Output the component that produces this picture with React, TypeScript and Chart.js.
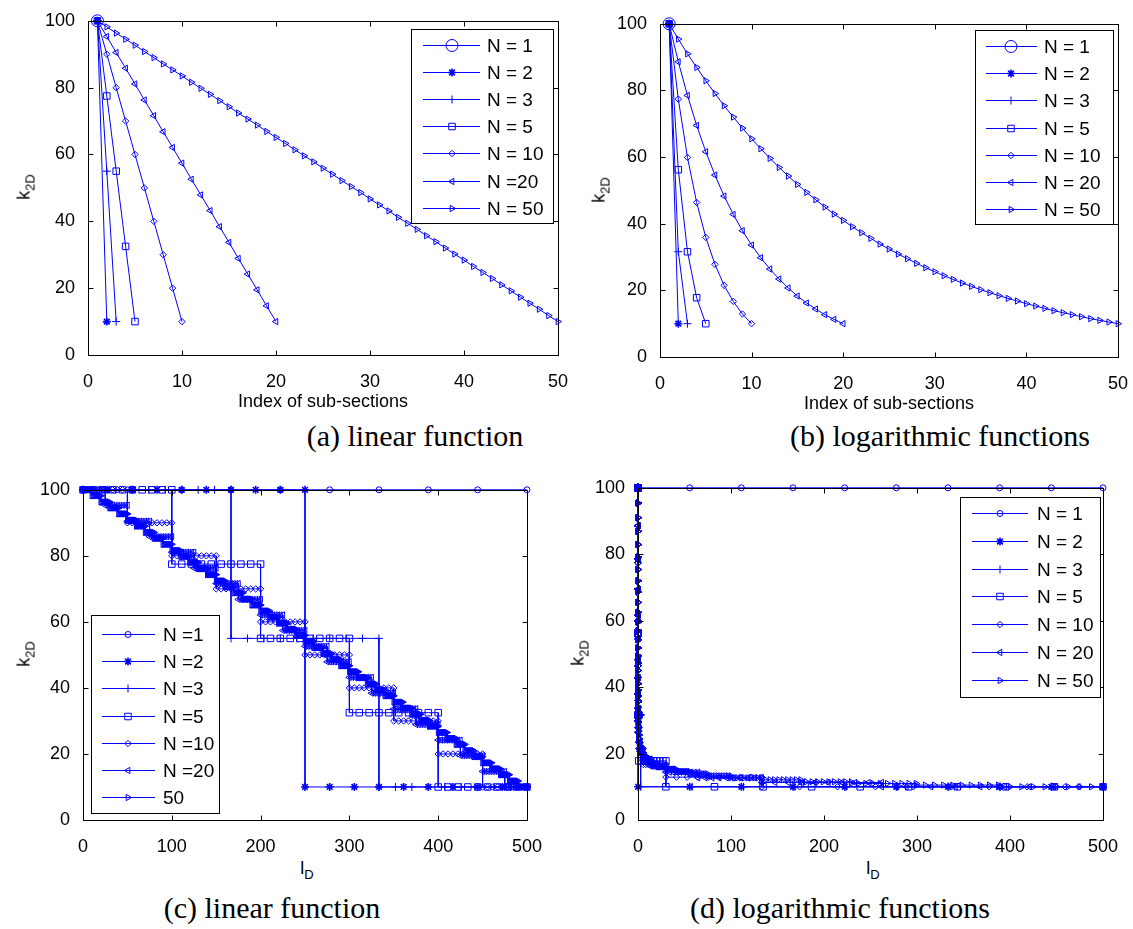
import React, { useEffect, useRef } from 'react';
import { Chart, registerables } from 'chart.js';

Chart.register(...registerables);

// Number of sub-sections for each series
const N_COUNTS = [1, 2, 3, 5, 10, 20, 50];

// k_2D of every sub-section, linear decrease from 100 to 10
const LIN_N1 = [100];
const LIN_N2 = [100, 10];
const LIN_N3 = [100, 55, 10];
const LIN_N5 = [100, 77.5, 55, 32.5, 10];
const LIN_N10 = [100, 90, 80, 70, 60, 50, 40, 30, 20, 10];
const LIN_N20 = [100, 95.3, 90.5, 85.8, 81.1, 76.3, 71.6, 66.8, 62.1, 57.4, 52.6, 47.9, 43.2, 38.4, 33.7, 28.9, 24.2, 19.5, 14.7, 10];
const LIN_N50 = [
  100, 98.2, 96.3, 94.5, 92.7, 90.8, 89.0, 87.1, 85.3, 83.5,
  81.6, 79.8, 78.0, 76.1, 74.3, 72.4, 70.6, 68.8, 66.9, 65.1,
  63.3, 61.4, 59.6, 57.8, 55.9, 54.1, 52.2, 50.4, 48.6, 46.7,
  44.9, 43.1, 41.2, 39.4, 37.6, 35.7, 33.9, 32.0, 30.2, 28.4,
  26.5, 24.7, 22.9, 21.0, 19.2, 17.3, 15.5, 13.7, 11.8, 10,
];

// k_2D of every sub-section, logarithmic decrease from 100 to 10
const LOG_N1 = [100];
const LOG_N2 = [100, 10];
const LOG_N3 = [100, 31.6, 10];
const LOG_N5 = [100, 56.2, 31.6, 17.8, 10];
const LOG_N10 = [100, 77.4, 59.9, 46.4, 35.9, 27.8, 21.5, 16.7, 12.9, 10];
const LOG_N20 = [100, 88.6, 78.5, 69.5, 61.6, 54.6, 48.3, 42.8, 37.9, 33.6, 29.8, 26.4, 23.4, 20.7, 18.3, 16.2, 14.4, 12.7, 11.3, 10];
const LOG_N50 = [
  100, 95.4, 91.0, 86.9, 82.9, 79.1, 75.4, 72.0, 68.7, 65.5,
  62.5, 59.6, 56.9, 54.3, 51.8, 49.4, 47.2, 45.0, 42.9, 41.0,
  39.1, 37.3, 35.6, 33.9, 32.4, 30.9, 29.5, 28.1, 26.8, 25.6,
  24.4, 23.3, 22.2, 21.2, 20.2, 19.3, 18.4, 17.6, 16.8, 16.0,
  15.3, 14.6, 13.9, 13.3, 12.7, 12.1, 11.5, 11.0, 10.5, 10,
];

// l_D boundaries of the sub-sections, linear case (equal lengths)
const C_EDGES_N1 = [0, 500];
const C_EDGES_N2 = [0, 250, 500];
const C_EDGES_N3 = [0, 166.7, 333.3, 500];
const C_EDGES_N5 = [0, 100, 200, 300, 400, 500];
const C_EDGES_N10 = [0, 50, 100, 150, 200, 250, 300, 350, 400, 450, 500];
const C_EDGES_N20 = [0, 25, 50, 75, 100, 125, 150, 175, 200, 225, 250, 275, 300, 325, 350, 375, 400, 425, 450, 475, 500];
const C_EDGES_N50 = [
  0, 10, 20, 30, 40, 50, 60, 70, 80, 90, 100, 110, 120, 130, 140, 150, 160, 170, 180, 190,
  200, 210, 220, 230, 240, 250, 260, 270, 280, 290, 300, 310, 320, 330, 340, 350, 360, 370, 380, 390,
  400, 410, 420, 430, 440, 450, 460, 470, 480, 490, 500,
];

// l_D boundaries of the sub-sections, logarithmic case
const D_EDGES_N1 = [0, 500];
const D_EDGES_N2 = [0, 0.08, 500];
const D_EDGES_N3 = [0, 0, 3.0, 500];
const D_EDGES_N5 = [0, 0, 0.005, 0.8, 30, 500];
const D_EDGES_N10 = [0, 0, 0, 0, 0.005, 0.08, 0.8, 5.6, 30, 133, 500];
const D_EDGES_N20 = [0, 0, 0, 0, 0, 0, 0, 0, 0.005, 0.021, 0.08, 0.27, 0.8, 2.2, 5.6, 13.3, 30, 64.5, 133, 262, 500];
const D_EDGES_N50 = [
  0, 0, 0, 0, 0, 0, 0, 0, 0, 0, 0, 0, 0, 0, 0, 0, 0, 0, 0, 0,
  0.005, 0.009, 0.016, 0.028, 0.048, 0.08, 0.13, 0.21, 0.34, 0.52,
  0.8, 1.2, 1.8, 2.7, 3.9, 5.6, 8.0, 11.3, 15.7, 21.8,
  30, 41, 55.6, 74.8, 99.9, 132.6, 174.9, 229.3, 299, 387.6, 500,
];

// Axis ticks
const INDEX_TICKS = [0, 10, 20, 30, 40, 50];
const LENGTH_TICKS = [0, 100, 200, 300, 400, 500];
const K_TICKS = [0, 20, 40, 60, 80, 100];

// Legend texts
const LEGEND_A = ['N = 1', 'N = 2', 'N = 3', 'N = 5', 'N = 10', 'N =20', 'N = 50'];
const LEGEND_B = ['N = 1', 'N = 2', 'N = 3', 'N = 5', 'N = 10', 'N = 20', 'N = 50'];
const LEGEND_C = ['N =1', 'N =2', 'N =3', 'N =5', 'N =10', 'N =20', '50'];
const LEGEND_D = ['N = 1', 'N = 2', 'N = 3', 'N = 5', 'N = 10', 'N = 20', 'N = 50'];

const LIN_LEVELS = [LIN_N1, LIN_N2, LIN_N3, LIN_N5, LIN_N10, LIN_N20, LIN_N50];
const LOG_LEVELS = [LOG_N1, LOG_N2, LOG_N3, LOG_N5, LOG_N10, LOG_N20, LOG_N50];
const C_EDGES = [C_EDGES_N1, C_EDGES_N2, C_EDGES_N3, C_EDGES_N5, C_EDGES_N10, C_EDGES_N20, C_EDGES_N50];
const D_EDGES = [D_EDGES_N1, D_EDGES_N2, D_EDGES_N3, D_EDGES_N5, D_EDGES_N10, D_EDGES_N20, D_EDGES_N50];

// Each sub-section is sampled by this many markers along l_D
const MARKERS_PER_SECTION = 10;

const BLUE = 'rgb(0,0,255)';
const SANS = "'Liberation Sans', Arial, sans-serif";
const SERIF = "'Liberation Serif', 'Times New Roman', serif";

type Marker = { pointStyle: string; radius: number; rotation: number; width: number };

const markerSet = (circleRadius: number): Marker[] => [
  { pointStyle: 'circle', radius: circleRadius, rotation: 0, width: 1 },
  { pointStyle: 'star', radius: 4, rotation: 0, width: 1.6 },
  { pointStyle: 'cross', radius: 4, rotation: 0, width: 1 },
  { pointStyle: 'rect', radius: 4.6, rotation: 0, width: 1 },
  { pointStyle: 'rectRot', radius: 3.2, rotation: 0, width: 1 },
  { pointStyle: 'triangle', radius: 3.6, rotation: -90, width: 1 },
  { pointStyle: 'triangle', radius: 3.6, rotation: 90, width: 1 },
];

type Area = { left: number; top: number; right: number; bottom: number };
type LegendSpec = {
  labels: string[];
  box: [number, number, number, number];
  firstRow: number;
  rowStep: number;
  lineX: [number, number];
  markerX: number;
  textX: number;
};
type PanelSpec = {
  key: string;
  area: Area;
  xMax: number;
  xTicks: number[];
  markers: Marker[];
  series: { x: number; y: number }[][];
  legend: LegendSpec;
};

const Y_AXIS_W = 55;
const X_AXIS_H = 32;
const PAD = { left: 5, top: 14, right: 18, bottom: 4 };
const TICK_LEN = 5;

function indexSeries(levels: number[]) {
  return levels.map((k, i) => ({ x: i + 1, y: k }));
}

function stepSeries(levels: number[], edges: number[]) {
  const pts: { x: number; y: number }[] = [];
  levels.forEach((k, i) => {
    const a = edges[i];
    const b = edges[i + 1];
    for (let s = 0; s < MARKERS_PER_SECTION; s++) {
      pts.push({ x: a + ((b - a) * s) / (MARKERS_PER_SECTION - 1), y: k });
    }
  });
  return pts;
}

const PANELS: PanelSpec[] = [
  {
    key: 'a',
    area: { left: 88, top: 19, right: 558, bottom: 355 },
    xMax: 50,
    xTicks: INDEX_TICKS,
    markers: markerSet(6),
    series: LIN_LEVELS.map(indexSeries),
    legend: { labels: LEGEND_A, box: [411, 29, 553, 223], firstRow: 44.5, rowStep: 27.2, lineX: [423, 480], markerX: 452, textX: 487 },
  },
  {
    key: 'b',
    area: { left: 660, top: 22, right: 1118, bottom: 357 },
    xMax: 50,
    xTicks: INDEX_TICKS,
    markers: markerSet(6),
    series: LOG_LEVELS.map(indexSeries),
    legend: { labels: LEGEND_B, box: [975, 30, 1113, 224], firstRow: 46, rowStep: 27.2, lineX: [986, 1037], markerX: 1011, textX: 1044 },
  },
  {
    key: 'c',
    area: { left: 83, top: 488, right: 532, bottom: 820 },
    xMax: 500,
    xTicks: LENGTH_TICKS,
    markers: markerSet(3),
    series: LIN_LEVELS.map((lv, i) => stepSeries(lv, C_EDGES[i])),
    legend: { labels: LEGEND_C, box: [91, 615, 219, 813], firstRow: 634, rowStep: 27.2, lineX: [102, 155], markerX: 128, textX: 163 },
  },
  {
    key: 'd',
    area: { left: 638, top: 486, right: 1108, bottom: 820 },
    xMax: 500,
    xTicks: LENGTH_TICKS,
    markers: markerSet(3),
    series: LOG_LEVELS.map((lv, i) => stepSeries(lv, D_EDGES[i])),
    legend: { labels: LEGEND_D, box: [960, 497, 1100, 697], firstRow: 513, rowStep: 27.8, lineX: [972, 1028], markerX: 1000, textX: 1037 },
  },
];

function canvasBox(area: Area) {
  const x = area.left - Y_AXIS_W - PAD.left;
  const y = area.top - PAD.top;
  const w = area.right + PAD.right - x;
  const h = area.bottom + X_AXIS_H + PAD.bottom - y;
  return { x, y, w, h };
}

function drawMarker(ctx: CanvasRenderingContext2D, m: Marker, x: number, y: number) {
  const r = m.radius;
  ctx.lineWidth = m.width;
  ctx.beginPath();
  switch (m.pointStyle) {
    case 'circle':
      ctx.arc(x, y, r, 0, Math.PI * 2);
      break;
    case 'rect': {
      const s = r * Math.SQRT1_2;
      ctx.rect(x - s, y - s, 2 * s, 2 * s);
      break;
    }
    case 'rectRot':
      ctx.moveTo(x, y - r);
      ctx.lineTo(x + r, y);
      ctx.lineTo(x, y + r);
      ctx.lineTo(x - r, y);
      ctx.closePath();
      break;
    case 'cross':
      ctx.moveTo(x, y - r);
      ctx.lineTo(x, y + r);
      ctx.moveTo(x - r, y);
      ctx.lineTo(x + r, y);
      break;
    case 'star':
      for (let k = 0; k < 4; k++) {
        const a = (k * Math.PI) / 4;
        ctx.moveTo(x - Math.cos(a) * r, y - Math.sin(a) * r);
        ctx.lineTo(x + Math.cos(a) * r, y + Math.sin(a) * r);
      }
      break;
    case 'triangle': {
      let a = (m.rotation * Math.PI) / 180;
      ctx.moveTo(x + Math.sin(a) * r, y - Math.cos(a) * r);
      for (let k = 0; k < 2; k++) {
        a += (2 * Math.PI) / 3;
        ctx.lineTo(x + Math.sin(a) * r, y - Math.cos(a) * r);
      }
      ctx.closePath();
      break;
    }
  }
  ctx.stroke();
}

function makeFramePlugin(spec: PanelSpec) {
  return {
    id: 'axesFrame',
    afterDatasetsDraw(chart: any) {
      const { ctx, chartArea: a, scales } = chart;
      const l = Math.round(a.left) + 0.5;
      const r = Math.round(a.right) + 0.5;
      const t = Math.round(a.top) + 0.5;
      const b = Math.round(a.bottom) + 0.5;
      ctx.save();
      ctx.strokeStyle = '#000';
      ctx.lineWidth = 1;
      ctx.strokeRect(l, t, r - l, b - t);
      ctx.beginPath();
      spec.xTicks.forEach((v) => {
        const px = Math.round(scales.x.getPixelForValue(v)) + 0.5;
        ctx.moveTo(px, b);
        ctx.lineTo(px, b - TICK_LEN);
        ctx.moveTo(px, t);
        ctx.lineTo(px, t + TICK_LEN);
      });
      K_TICKS.forEach((v) => {
        const py = Math.round(scales.y.getPixelForValue(v)) + 0.5;
        ctx.moveTo(l, py);
        ctx.lineTo(l + TICK_LEN, py);
        ctx.moveTo(r, py);
        ctx.lineTo(r - TICK_LEN, py);
      });
      ctx.stroke();
      ctx.restore();
    },
  };
}

function makeLegendPlugin(spec: PanelSpec) {
  const box = canvasBox(spec.area);
  const lg = spec.legend;
  return {
    id: 'boxLegend',
    afterDatasetsDraw(chart: any) {
      const ctx: CanvasRenderingContext2D = chart.ctx;
      const ox = box.x;
      const oy = box.y;
      ctx.save();
      const x1 = lg.box[0] - ox + 0.5;
      const y1 = lg.box[1] - oy + 0.5;
      const w = lg.box[2] - lg.box[0];
      const h = lg.box[3] - lg.box[1];
      ctx.fillStyle = '#fff';
      ctx.fillRect(x1, y1, w, h);
      ctx.strokeStyle = '#000';
      ctx.lineWidth = 1;
      ctx.strokeRect(x1, y1, w, h);
      lg.labels.forEach((label, i) => {
        const y = Math.round(lg.firstRow + i * lg.rowStep - oy) + 0.5;
        ctx.strokeStyle = BLUE;
        ctx.lineWidth = 1;
        ctx.beginPath();
        ctx.moveTo(lg.lineX[0] - ox, y);
        ctx.lineTo(lg.lineX[1] - ox, y);
        ctx.stroke();
        drawMarker(ctx, spec.markers[i], lg.markerX - ox, y);
        ctx.fillStyle = '#000';
        ctx.font = `19px ${SANS}`;
        ctx.textBaseline = 'middle';
        ctx.textAlign = 'left';
        ctx.fillText(label, lg.textX - ox, y + 1);
      });
      ctx.restore();
    },
  };
}

function buildConfig(spec: PanelSpec): any {
  const count = spec.series.length;
  const datasets = spec.series.map((data, i) => {
    const m = spec.markers[i];
    return {
      label: `N = ${N_COUNTS[i]}`,
      data,
      borderColor: BLUE,
      borderWidth: 1,
      backgroundColor: 'rgba(0,0,0,0)',
      pointStyle: m.pointStyle,
      pointRadius: m.radius,
      pointRotation: m.rotation,
      pointBorderColor: BLUE,
      pointBackgroundColor: 'rgba(0,0,0,0)',
      pointBorderWidth: m.width,
      fill: false,
      tension: 0,
      clip: false,
      order: count - 1 - i,
    };
  });
  const tickFont = { family: SANS, size: 18 };
  return {
    type: 'line',
    data: { datasets },
    options: {
      animation: false,
      responsive: false,
      devicePixelRatio: 1,
      events: [],
      layout: { autoPadding: false, padding: PAD },
      plugins: { legend: { display: false }, tooltip: { enabled: false } },
      scales: {
        x: {
          type: 'linear',
          min: 0,
          max: spec.xMax,
          afterBuildTicks: (s: any) => {
            s.ticks = spec.xTicks.map((v) => ({ value: v }));
          },
          afterFit: (s: any) => {
            s.height = X_AXIS_H;
          },
          grid: { display: false },
          border: { display: false },
          ticks: { font: tickFont, color: '#000', padding: 8, maxRotation: 0, autoSkip: false },
        },
        y: {
          type: 'linear',
          min: 0,
          max: 100,
          afterBuildTicks: (s: any) => {
            s.ticks = K_TICKS.map((v) => ({ value: v }));
          },
          afterFit: (s: any) => {
            s.width = Y_AXIS_W;
          },
          grid: { display: false },
          border: { display: false },
          ticks: { font: tickFont, color: '#000', padding: 5 },
        },
      },
    },
    plugins: [makeFramePlugin(spec), makeLegendPlugin(spec)],
  };
}

function PanelChart({ spec }: { spec: PanelSpec }) {
  const ref = useRef<HTMLCanvasElement>(null);
  useEffect(() => {
    if (!ref.current) return;
    const chart = new Chart(ref.current, buildConfig(spec));
    return () => chart.destroy();
  }, [spec]);
  const b = canvasBox(spec.area);
  return (
    <canvas
      ref={ref}
      width={b.w}
      height={b.h}
      style={{ position: 'absolute', left: b.x, top: b.y, width: b.w, height: b.h }}
    />
  );
}

const centered = (x: number, y: number): React.CSSProperties => ({
  position: 'absolute',
  left: x,
  top: y,
  transform: 'translate(-50%, -50%)',
  whiteSpace: 'nowrap',
  lineHeight: 1,
  color: '#000',
});

function YLabel({ x, y }: { x: number; y: number }) {
  return (
    <div style={{ ...centered(x, y), transform: 'translate(-50%, -50%) rotate(-90deg)', font: `18px ${SANS}` }}>
      k<span style={{ fontSize: 13, position: 'relative', top: 5 }}>2D</span>
    </div>
  );
}

function LLabel({ x, y }: { x: number; y: number }) {
  return (
    <div style={{ ...centered(x, y), font: `18px ${SANS}` }}>
      l<span style={{ fontSize: 13, position: 'relative', top: 5 }}>D</span>
    </div>
  );
}

function Caption({ x, y, text }: { x: number; y: number; text: string }) {
  return <div style={{ ...centered(x, y), font: `30px ${SERIF}` }}>{text}</div>;
}

export default function App() {
  return (
    <div style={{ position: 'absolute', left: 0, top: 0, width: 1133, height: 929, background: '#fff', overflow: 'hidden' }}>
      {PANELS.map((p) => (
        <PanelChart key={p.key} spec={p} />
      ))}
      <YLabel x={24} y={187} />
      <YLabel x={599} y={190} />
      <YLabel x={24} y={654} />
      <YLabel x={578} y={653} />
      <div style={{ ...centered(323, 401), font: `18px ${SANS}` }}>Index of sub-sections</div>
      <div style={{ ...centered(889, 403), font: `18px ${SANS}` }}>Index of sub-sections</div>
      <LLabel x={307} y={868} />
      <LLabel x={873} y={868} />
      <Caption x={415} y={436} text="(a) linear function" />
      <Caption x={940} y={436} text="(b) logarithmic functions" />
      <Caption x={272} y={908} text="(c) linear function" />
      <Caption x={840} y={908} text="(d) logarithmic functions" />
    </div>
  );
}
